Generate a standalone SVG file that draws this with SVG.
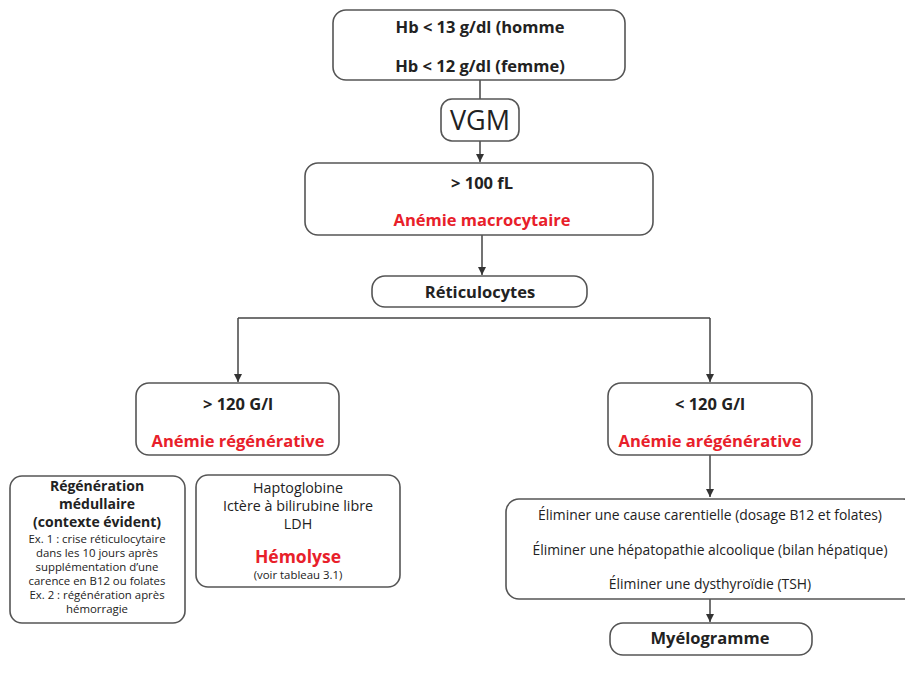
<svg xmlns="http://www.w3.org/2000/svg" width="905" height="676" viewBox="0 0 905 676">
<style>
.box{fill:#fff;stroke:#555;stroke-width:1.6}
.t{font-family:"Open Sans","Noto Sans","Liberation Sans",sans-serif;fill:#222;text-anchor:middle}
.b{font-weight:bold;font-size:16.5px}
.r{fill:#e8202a;font-weight:bold;font-size:16.5px}
.n{font-size:14.3px}
.e{font-size:13.9px}
.s{font-size:11.4px}
.ln{fill:none;stroke:#444;stroke-width:1.5}
</style>
<defs>
<marker id="ah" viewBox="0 0 10 10" refX="10" refY="5" markerWidth="8" markerHeight="8" markerUnits="userSpaceOnUse" orient="auto">
<path d="M0,0 L10,5 L0,10 z" fill="#333"/>
</marker>
</defs>
<rect width="905" height="676" fill="#fff"/>
<g id="connectors">
<line class="ln" x1="480" y1="80" x2="480" y2="99"/>
<line class="ln" x1="480" y1="141" x2="480" y2="162" marker-end="url(#ah)"/>
<line class="ln" x1="482" y1="235" x2="482" y2="275" marker-end="url(#ah)"/>
<line class="ln" x1="238" y1="318" x2="710" y2="318"/>
<line class="ln" x1="238" y1="318" x2="238" y2="382" marker-end="url(#ah)"/>
<line class="ln" x1="710" y1="318" x2="710" y2="382" marker-end="url(#ah)"/>
<line class="ln" x1="710" y1="455" x2="710" y2="497" marker-end="url(#ah)"/>
<line class="ln" x1="710" y1="599" x2="710" y2="622" marker-end="url(#ah)"/>
</g>
<g id="hb">
<rect class="box" x="333" y="10" width="292" height="70" rx="13"/>
<text class="t b" x="480" y="33">Hb &lt; 13 g/dl (homme</text>
<text class="t b" x="480" y="72">Hb &lt; 12 g/dl (femme)</text>
</g>
<g id="vgm">
<rect class="box" x="441" y="99" width="78" height="42" rx="11"/>
<text class="t" x="480" y="130" style="font-size:27px">VGM</text>
</g>
<g id="macro">
<rect class="box" x="305" y="163" width="348" height="72" rx="13"/>
<text class="t b" x="482" y="189">&gt; 100 fL</text>
<text class="t r" x="482" y="226">Anémie macrocytaire</text>
</g>
<g id="reticulocytes">
<rect class="box" x="372" y="276" width="215" height="31" rx="13"/>
<text class="t b" x="480" y="298">Réticulocytes</text>
</g>
<g id="regen">
<rect class="box" x="136" y="383" width="203" height="72" rx="13"/>
<text class="t b" x="238" y="410">&gt; 120 G/l</text>
<text class="t r" x="238" y="447">Anémie régénérative</text>
</g>
<g id="aregen">
<rect class="box" x="608" y="383" width="204" height="72" rx="13"/>
<text class="t b" x="710" y="410">&lt; 120 G/l</text>
<text class="t r" x="710" y="447">Anémie arégénérative</text>
</g>
<g id="medullaire">
<rect class="box" x="10" y="476" width="175" height="147" rx="12"/>
<text class="t b" style="font-size:14px" x="97" y="491">Régénération</text>
<text class="t b" style="font-size:14px" x="97" y="509">médullaire</text>
<text class="t b" style="font-size:14px" x="97" y="527">(contexte évident)</text>
<text class="t s" x="97" y="543">Ex. 1 : crise réticulocytaire</text>
<text class="t s" x="97" y="557">dans les 10 jours après</text>
<text class="t s" x="97" y="571">supplémentation d’une</text>
<text class="t s" x="97" y="585">carence en B12 ou folates</text>
<text class="t s" x="97" y="599">Ex. 2 : régénération après</text>
<text class="t s" x="97" y="613">hémorragie</text>
</g>
<g id="hemolyse">
<rect class="box" x="196" y="475" width="204" height="112" rx="12"/>
<text class="t n" x="298" y="493">Haptoglobine</text>
<text class="t n" x="298" y="511">Ictère à bilirubine libre</text>
<text class="t n" x="298" y="529">LDH</text>
<text class="t r" style="font-size:17.5px" x="298" y="563">Hémolyse</text>
<text class="t s" x="298" y="579">(voir tableau 3.1)</text>
</g>
<g id="eliminer">
<rect class="box" x="506" y="499" width="410" height="100" rx="13"/>
<text class="t e" x="710" y="520">Éliminer une cause carentielle (dosage B12 et folates)</text>
<text class="t e" x="710" y="555">Éliminer une hépatopathie alcoolique (bilan hépatique)</text>
<text class="t e" x="710" y="589">Éliminer une dysthyroïdie (TSH)</text>
</g>
<g id="myelogramme">
<rect class="box" x="610" y="623" width="202" height="32" rx="13"/>
<text class="t b" x="710" y="644">Myélogramme</text>
</g>
</svg>
